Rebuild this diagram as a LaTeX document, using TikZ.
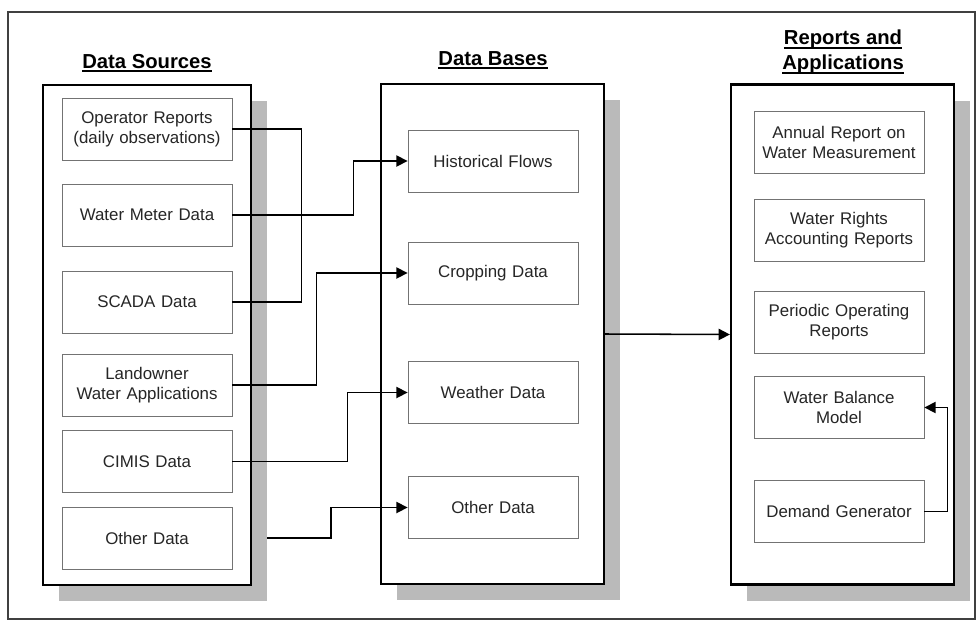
\documentclass[tikz,border=0pt]{standalone}
\usepackage{fontspec}
\setmainfont{Liberation Sans}
\usetikzlibrary{arrows.meta, positioning, shadows}

% heading underline, a bit heavier than \underline
\newcommand{\headul}[1]{\setbox0\hbox{#1}\rlap{\rule[-2.8pt]{\wd0}{1.1pt}}\box0}

\begin{document}
\begin{tikzpicture}[
        column/.style={draw, line width=1.6pt, fill=white, minimum height=12.5cm,
                       drop shadow={shadow xshift=4mm, shadow yshift=-4mm, fill=black!27, opacity=1}},
        item/.style={draw=black!55, line width=0.6pt, fill=white, align=center, text width=4.1cm,
                     minimum width=4.25cm, minimum height=1.55cm, inner sep=0pt,
                     font=\fontsize{12}{14.2}\selectfont, text=black!85},
        head/.style={font=\fontsize{14.4}{17.8}\selectfont\bfseries, align=center, inner sep=0pt},
        line/.style={line width=1.1pt},
        arr/.style={line, -{Triangle[length=2.8mm, width=2.8mm]}}
    ]
        \useasboundingbox (0,0) rectangle (24.425,-15.525);
        \draw[black!75, line width=0.8pt] (0.2,-0.3) rectangle (24.375,-15.475);

        % -- column headings --
        \node[head, anchor=base] (hsrc) at (3.675, -1.7)   {\headul{Data Sources}};
        \node[head, anchor=base] (hdb)  at (12.325, -1.625) {\headul{Data Bases}};
        \node[head]              (hrep) at (21.075, -1.3)   {\headul{Reports and}\\\headul{Applications}};

        % -- the three columns --
        \node[column, minimum width=5.2cm]   (src) at (3.675, -8.375)   {};
        \node[column, minimum width=5.575cm] (db)  at (12.3125, -8.35)  {};
        \node[column, minimum width=5.575cm] (rep) at (21.0625, -8.3625) {};

        % -- data sources --
        \node[item] (oper)   at (3.675, -3.225)  {Operator Reports\\(daily observations)};
        \node[item] (meter)  at (3.675, -5.375)  {Water Meter Data};
        \node[item] (scada)  at (3.675, -7.55)   {SCADA Data};
        \node[item] (land)   at (3.675, -9.625)  {Landowner\\Water Applications};
        \node[item] (cimis)  at (3.675, -11.5375) {CIMIS Data};
        \node[item] (othsrc) at (3.675, -13.45)  {Other Data};

        % -- data bases --
        \node[item] (hist)    at (12.325, -4.025)  {Historical Flows};
        \node[item] (crop)    at (12.325, -6.825)  {Cropping Data};
        \node[item] (weather) at (12.325, -9.8125) {Weather Data};
        \node[item] (othdb)   at (12.325, -12.6875) {Other Data};

        % -- reports and applications --
        \node[item] (annual)  at (20.975, -3.55)   {Annual Report on\\Water Measurement};
        \node[item] (rights)  at (20.975, -5.75)   {Water Rights\\Accounting Reports};
        \node[item] (period)  at (20.975, -8.0625) {Periodic Operating\\Reports};
        \node[item] (balance) at (20.975, -10.1875) {Water Balance\\Model};
        \node[item] (demand)  at (20.975, -12.7875) {Demand Generator};

        % source -> data base connectors
        \draw[line] (oper.east) -- ++(1.725,0) |- (scada.east);
        \draw[arr]  (meter.east) -- ++(3.025,0) |- (hist.west);
        \draw[arr]  (land.east) -- ++(2.1,0) |- (crop.west);
        \draw[arr]  (cimis.east) -- ++(2.875,0) |- (weather.west);
        \coordinate (othout) at (6.675, -13.45);
        \draw[arr]  (othout) -- ++(1.6,0) |- (othdb.west);

        % data bases -> reports
        \draw[arr] (db.east) -- (rep.west);
        \draw[arr] (demand.east) -- ++(0.575,0) |- (balance.east);
    \end{tikzpicture}
\end{document}
